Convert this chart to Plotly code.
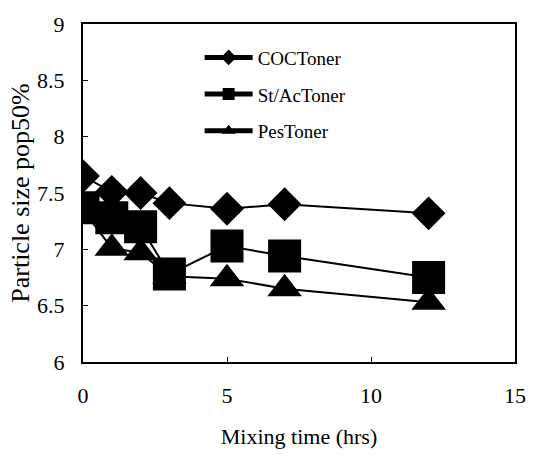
import plotly.graph_objects as go

# Data
mixing_time = [0, 1, 2, 3, 5, 7, 12]
coc_toner = [7.65, 7.51, 7.50, 7.41, 7.36, 7.40, 7.32]
stac_toner = [7.37, 7.28, 7.20, 6.78, 7.03, 6.94, 6.75]
pes_toner = [7.35, 7.01, 6.97, 6.76, 6.74, 6.65, 6.53]

series_names = ["COCToner", "St/AcToner", "PesToner"]
x_ticks = [0, 5, 10, 15]
y_ticks = [6, 6.5, 7, 7.5, 8, 8.5, 9]

FONT = "Liberation Serif"

fig = go.Figure()
specs = [
    (coc_toner, "diamond", 26),
    (stac_toner, "square", 33),
    (pes_toner, "triangle-up", 30),
]
for i, (vals, sym, sz) in enumerate(specs):
    fig.add_trace(go.Scatter(
        x=mixing_time, y=vals, name=series_names[i], mode="lines+markers",
        legendgroup=f"g{i}",
        line=dict(color="black", width=2),
        marker=dict(symbol=sym, size=sz, color="black", line=dict(width=0)),
    ))

axis_common = dict(
    showgrid=False, zeroline=False, showline=True, linecolor="black", linewidth=2,
    mirror=True, ticks="inside", ticklen=5, tickwidth=1, tickcolor="black",
    tickfont=dict(family=FONT, size=22, color="black"),
)

fig.update_layout(
    width=539, height=457,
    margin=dict(l=83, r=24, t=16, b=93),
    paper_bgcolor="white", plot_bgcolor="white",
    font=dict(family=FONT, color="black"),
    xaxis=dict(range=[0, 15], tickvals=x_ticks, ticklabelstandoff=13,
               title=dict(text="Mixing time (hrs)", font=dict(family=FONT, size=22), standoff=21),
               **axis_common),
    yaxis=dict(range=[6, 9], tickvals=y_ticks, ticktext=[f"{v:g}" for v in y_ticks],
               ticklabelstandoff=12,
               title=dict(text="Particle size pop50%", font=dict(family=FONT, size=26), standoff=0),
               **axis_common),
    showlegend=True,
    legend=dict(x=0.27, y=0.957, xanchor="left", yanchor="top",
                bgcolor="rgba(0,0,0,0)", borderwidth=0,
                font=dict(family=FONT, size=19, color="black"),
                itemsizing="constant", itemwidth=48, tracegroupgap=9,
                traceorder="grouped"),
)

fig.write_html("out.html")
